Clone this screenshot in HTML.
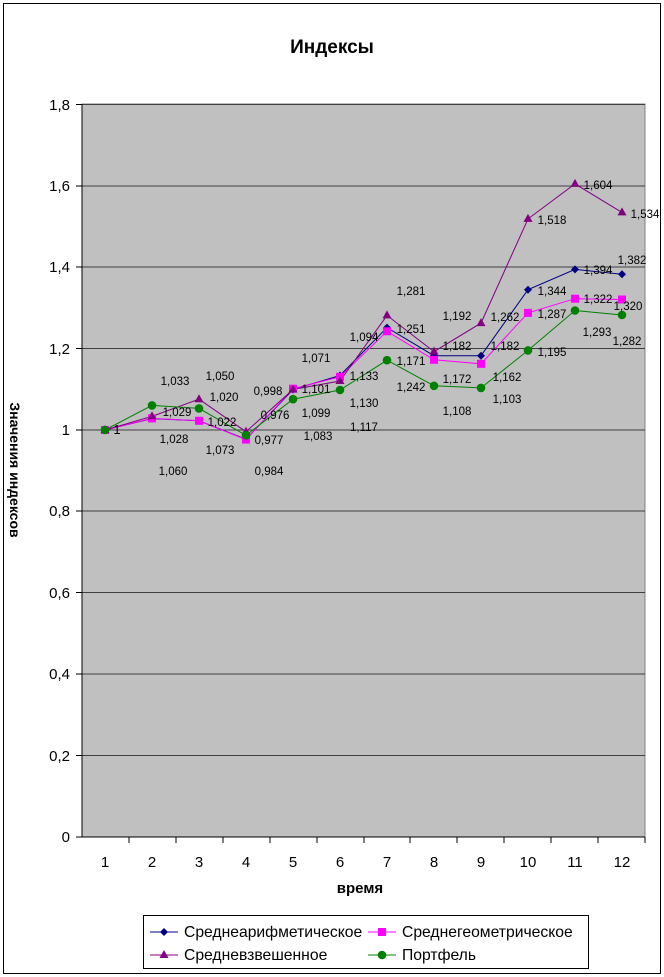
<!DOCTYPE html>
<html><head><meta charset="utf-8"><style>body{margin:0;background:#fff}svg{display:block}</style></head><body>
<svg width="664" height="977" xmlns="http://www.w3.org/2000/svg" font-family="Liberation Sans, sans-serif">
<defs><clipPath id="c"><rect x="5" y="0" width="100" height="977"/></clipPath></defs>
<rect x="0" y="0" width="664" height="977" fill="#fff"/>
<rect x="3.5" y="3.5" width="657" height="970" fill="none" stroke="#000" stroke-width="1"/>
<text x="332" y="53" font-size="19" font-weight="bold" text-anchor="middle">Индексы</text>
<rect x="82" y="104" width="563" height="733" fill="#c0c0c0" stroke="#808080"/>
<g stroke="#404040" stroke-width="1">
<line x1="82" x2="645" y1="104.5" y2="104.5"/><line x1="82" x2="645" y1="186" y2="186"/><line x1="82" x2="645" y1="267" y2="267"/><line x1="82" x2="645" y1="348.5" y2="348.5"/><line x1="82" x2="645" y1="430" y2="430"/><line x1="82" x2="645" y1="511" y2="511"/><line x1="82" x2="645" y1="592.5" y2="592.5"/><line x1="82" x2="645" y1="674" y2="674"/><line x1="82" x2="645" y1="755.5" y2="755.5"/>
<line x1="82" x2="645" y1="837" y2="837" stroke="#000"/>
<line x1="82" x2="82" y1="104" y2="837" stroke="#000"/>
</g>
<g stroke="#000"><line x1="76" x2="82" y1="104.5" y2="104.5"/><line x1="76" x2="82" y1="186" y2="186"/><line x1="76" x2="82" y1="267" y2="267"/><line x1="76" x2="82" y1="348.5" y2="348.5"/><line x1="76" x2="82" y1="430" y2="430"/><line x1="76" x2="82" y1="511" y2="511"/><line x1="76" x2="82" y1="592.5" y2="592.5"/><line x1="76" x2="82" y1="674" y2="674"/><line x1="76" x2="82" y1="755.5" y2="755.5"/><line x1="76" x2="82" y1="837" y2="837"/>
<line x1="129" x2="129" y1="837" y2="843"/><line x1="176" x2="176" y1="837" y2="843"/><line x1="223" x2="223" y1="837" y2="843"/><line x1="270" x2="270" y1="837" y2="843"/><line x1="317" x2="317" y1="837" y2="843"/><line x1="364" x2="364" y1="837" y2="843"/><line x1="410" x2="410" y1="837" y2="843"/><line x1="457" x2="457" y1="837" y2="843"/><line x1="504" x2="504" y1="837" y2="843"/><line x1="551" x2="551" y1="837" y2="843"/><line x1="598" x2="598" y1="837" y2="843"/><line x1="645" x2="645" y1="837" y2="843"/></g>
<g font-size="15" text-anchor="end"><text x="70" y="110">1,8</text><text x="70" y="191">1,6</text><text x="70" y="272">1,4</text><text x="70" y="354">1,2</text><text x="70" y="435">1</text><text x="70" y="516">0,8</text><text x="70" y="598">0,6</text><text x="70" y="679">0,4</text><text x="70" y="761">0,2</text><text x="70" y="842">0</text></g>
<g font-size="15" text-anchor="middle"><text x="105" y="867">1</text><text x="152" y="867">2</text><text x="199" y="867">3</text><text x="246" y="867">4</text><text x="293" y="867">5</text><text x="340" y="867">6</text><text x="387" y="867">7</text><text x="434" y="867">8</text><text x="481" y="867">9</text><text x="528" y="867">10</text><text x="575" y="867">11</text><text x="622" y="867">12</text></g>
<text x="360" y="893" font-size="15" font-weight="bold" text-anchor="middle">время</text>
<g clip-path="url(#c)"><text transform="translate(10,470) rotate(90)" font-size="14" font-weight="bold" text-anchor="middle">Значения индексов</text></g>
<polyline fill="none" stroke="#000080" points="105,430 152,418.6 199,420.8 246,439.2 293,389.5 340,375.5 387,327.6 434,355.7 481,355.7 528,289.7 575,269.4 622,274.2"/>
<polyline fill="none" stroke="#FF00FF" points="105,430 152,418.4 199,420.8 246,439.6 293,388.7 340,376.8 387,331.3 434,359.8 481,363.8 528,312.9 575,298.7 622,299.5"/>
<polyline fill="none" stroke="#800080" points="105,430 152,416.4 199,399.2 246,431.7 293,389.5 340,381 387,315.4 434,351.6 481,323.1 528,218.9 575,183.9 622,212.4"/>
<polyline fill="none" stroke="#008000" points="105,430 152,405.4 199,408.4 246,435.3 293,399.2 340,390 387,360.2 434,385.8 481,387.9 528,350.4 575,310.5 622,315"/>
<g fill="#000080">
<path d="M105,426l4,4l-4,4l-4,-4z M152,414.6l4,4l-4,4l-4,-4z M199,416.8l4,4l-4,4l-4,-4z M246,435.2l4,4l-4,4l-4,-4z M293,385.5l4,4l-4,4l-4,-4z M340,371.5l4,4l-4,4l-4,-4z M387,323.6l4,4l-4,4l-4,-4z M434,351.7l4,4l-4,4l-4,-4z M481,351.7l4,4l-4,4l-4,-4z M528,285.7l4,4l-4,4l-4,-4z M575,265.4l4,4l-4,4l-4,-4z M622,270.2l4,4l-4,4l-4,-4z"/></g>
<g fill="#FF00FF"><rect x="101" y="426" width="8" height="8"/><rect x="148" y="414.4" width="8" height="8"/><rect x="195" y="416.8" width="8" height="8"/><rect x="242" y="435.6" width="8" height="8"/><rect x="289" y="384.7" width="8" height="8"/><rect x="336" y="372.8" width="8" height="8"/><rect x="383" y="327.3" width="8" height="8"/><rect x="430" y="355.8" width="8" height="8"/><rect x="477" y="359.8" width="8" height="8"/><rect x="524" y="308.9" width="8" height="8"/><rect x="571" y="294.7" width="8" height="8"/><rect x="618" y="295.5" width="8" height="8"/></g>
<g fill="#800080"><path d="M105,425l4.5,8h-9z M152,411.4l4.5,8h-9z M199,394.2l4.5,8h-9z M246,426.7l4.5,8h-9z M293,384.5l4.5,8h-9z M340,376l4.5,8h-9z M387,310.4l4.5,8h-9z M434,346.6l4.5,8h-9z M481,318.1l4.5,8h-9z M528,213.9l4.5,8h-9z M575,178.9l4.5,8h-9z M622,207.4l4.5,8h-9z"/></g>
<g fill="#008000"><circle cx="105" cy="430" r="4.3"/><circle cx="152" cy="405.4" r="4.3"/><circle cx="199" cy="408.4" r="4.3"/><circle cx="246" cy="435.3" r="4.3"/><circle cx="293" cy="399.2" r="4.3"/><circle cx="340" cy="390" r="4.3"/><circle cx="387" cy="360.2" r="4.3"/><circle cx="434" cy="385.8" r="4.3"/><circle cx="481" cy="387.9" r="4.3"/><circle cx="528" cy="350.4" r="4.3"/><circle cx="575" cy="310.5" r="4.3"/><circle cx="622" cy="315" r="4.3"/></g>
<g font-size="11.5" text-anchor="middle" fill="#000">
<text x="117" y="434" font-size="13">1</text>
<text x="175" y="385">1,033</text><text x="220" y="380">1,050</text><text x="177" y="416">1,029</text><text x="224" y="401">1,020</text><text x="222" y="426">1,022</text><text x="174" y="443">1,028</text><text x="220" y="454">1,073</text><text x="173" y="475">1,060</text>
<text x="268" y="395">0,998</text><text x="275" y="419">0,976</text><text x="269" y="444">0,977</text><text x="269" y="475">0,984</text>
<text x="316" y="362">1,071</text><text x="316" y="393">1,101</text><text x="316" y="417">1,099</text><text x="318" y="440">1,083</text>
<text x="364" y="341">1,094</text><text x="364" y="380">1,133</text><text x="364" y="407">1,130</text><text x="364" y="431">1,117</text>
<text x="411" y="295">1,281</text><text x="411" y="333">1,251</text><text x="411" y="365">1,171</text><text x="411" y="391">1,242</text>
<text x="457" y="320">1,192</text><text x="457" y="350">1,182</text><text x="457" y="383">1,172</text><text x="457" y="415">1,108</text>
<text x="505" y="321">1,262</text><text x="505" y="350">1,182</text><text x="507" y="381">1,162</text><text x="507" y="403">1,103</text>
<text x="552" y="224">1,518</text><text x="552" y="295">1,344</text><text x="552" y="318">1,287</text><text x="552" y="356">1,195</text>
<text x="598" y="189">1,604</text><text x="598" y="274">1,394</text><text x="598" y="303">1,322</text><text x="597" y="336">1,293</text>
<text x="645" y="218">1,534</text><text x="632" y="264">1,382</text><text x="628" y="310">1,320</text><text x="627" y="345">1,282</text>
</g>
<rect x="143.5" y="915.5" width="445" height="53" fill="#fff" stroke="#000"/>
<g font-size="15.7">
<line x1="150" x2="178" y1="932" y2="932" stroke="#000080"/><path d="M164,928l4,4l-4,4l-4,-4z" fill="#000080"/><text x="184" y="937">Среднеарифметическое</text>
<line x1="368" x2="396" y1="932" y2="932" stroke="#FF00FF"/><rect x="378" y="928" width="8" height="8" fill="#FF00FF"/><text x="402" y="937">Среднегеометрическое</text>
<line x1="150" x2="178" y1="955" y2="955" stroke="#800080"/><path d="M164,950l4.5,8h-9z" fill="#800080"/><text x="184" y="960">Средневзвешенное</text>
<line x1="368" x2="396" y1="955" y2="955" stroke="#008000"/><circle cx="382" cy="955" r="4.3" fill="#008000"/><text x="402" y="960">Портфель</text>
</g>
</svg>
</body></html>
